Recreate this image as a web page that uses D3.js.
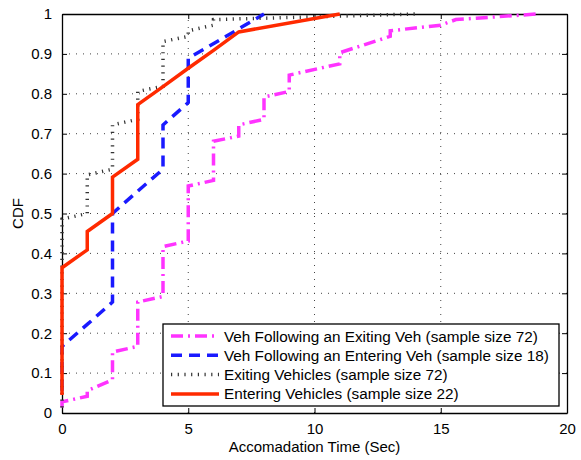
<!DOCTYPE html>
<html>
<head>
<meta charset="utf-8">
<script src="https://cdn.jsdelivr.net/npm/d3@7"></script>
<style>
  html, body { margin: 0; padding: 0; background: #fff; }
  svg { display: block; }
  text { font-family: "Liberation Sans", Arial, Helvetica, sans-serif; fill: #000; }
</style>
</head>
<body>
<svg id="chart" width="581" height="460"></svg>
<script>
// Empirical CDF curves of accommodation time, as [time (s), cumulative fraction] vertices
const followExiting = [
  [0, 0.014], [0, 0.028], [1, 0.042], [1, 0.056], [2, 0.083], [2, 0.153],
  [3, 0.167], [3, 0.278], [4, 0.292], [4, 0.417], [5, 0.431], [5, 0.569],
  [6, 0.583], [6, 0.681], [7, 0.694], [7, 0.722], [8, 0.736], [8, 0.792],
  [9, 0.806], [9, 0.847], [11, 0.875], [11, 0.903], [13, 0.944], [13, 0.958],
  [15, 0.972], [15.6, 0.986], [18.8, 1]
];
const followEntering = [
  [0, 0.056], [0, 0.167], [1, 0.222], [2, 0.278], [2, 0.5], [3, 0.556],
  [4, 0.611], [4, 0.722], [5, 0.778], [5, 0.889], [6.5, 0.944], [8, 1]
];
const exiting = [
  [0, 0.014], [0, 0.486], [1, 0.5], [1, 0.597], [2, 0.611], [2, 0.722],
  [3, 0.736], [3, 0.806], [4, 0.819], [4, 0.931], [5, 0.944], [5, 0.958],
  [6, 0.972], [6, 0.986], [14, 1]
];
const entering = [
  [0, 0.045], [0, 0.364], [1, 0.409], [1, 0.455], [2, 0.5], [2, 0.591],
  [3, 0.636], [3, 0.773], [4, 0.818], [5, 0.864], [6, 0.909], [7, 0.955], [11, 1]
];

const seriesLabels = [
  "Veh Following an Exiting Veh (sample size 72)",
  "Veh Following an Entering Veh (sample size 18)",
  "Exiting Vehicles (sample size 72)",
  "Entering Vehicles (sample size 22)"
];
const xTicks = [0, 5, 10, 15, 20];
const yTicks = [0, 0.1, 0.2, 0.3, 0.4, 0.5, 0.6, 0.7, 0.8, 0.9, 1];
const xTitle = "Accomadation Time (Sec)";
const yTitle = "CDF";

// Line styles per series
const styles = [
  { color: "#ff33ff", width: 3.5, dash: "12,5,2,5" },
  { color: "#1a1aff", width: 3.5, dash: "11,7" },
  { color: "#333333", width: 3.5, dash: "1.2,5.5" },
  { color: "#ff2a00", width: 3.5, dash: null }
];
const allSeries = [followExiting, followEntering, exiting, entering];

const svg = d3.select("#chart");
const L = 62, R = 567, T = 14, B = 413;
const FS = "15px";

const x = d3.scaleLinear().domain([0, 20]).range([L, R]);
const y = d3.scaleLinear().domain([0, 1]).range([B, T]);

// Grid lines (dotted)
const grid = svg.append("g");
grid.selectAll(".gx").data(xTicks.slice(1, -1)).enter().append("line")
  .attr("x1", d => x(d)).attr("x2", d => x(d)).attr("y1", B).attr("y2", T)
  .attr("stroke", "#444").attr("stroke-width", 1).attr("stroke-dasharray", "1,6");
grid.selectAll(".gy").data(yTicks.slice(1, -1)).enter().append("line")
  .attr("x1", L).attr("x2", R).attr("y1", d => y(d)).attr("y2", d => y(d))
  .attr("stroke", "#444").attr("stroke-width", 1).attr("stroke-dasharray", "1,6");

// Axes with inward ticks on all four sides
const tickFmt = d => d === 0 ? "0" : (d === 1 ? "1" : d3.format("")(+d.toFixed(1)));
const axB = svg.append("g").attr("transform", `translate(0,${B})`)
  .call(d3.axisBottom(x).tickValues(xTicks).tickSizeInner(-5).tickSizeOuter(0).tickPadding(10).tickFormat(d3.format("d")));
const axT = svg.append("g").attr("transform", `translate(0,${T})`)
  .call(d3.axisTop(x).tickValues(xTicks).tickSizeInner(-5).tickSizeOuter(0).tickFormat(""));
const axL = svg.append("g").attr("transform", `translate(${L},0)`)
  .call(d3.axisLeft(y).tickValues(yTicks).tickSizeInner(-5).tickSizeOuter(0).tickPadding(10).tickFormat(tickFmt));
const axR = svg.append("g").attr("transform", `translate(${R},0)`)
  .call(d3.axisRight(y).tickValues(yTicks).tickSizeInner(-5).tickSizeOuter(0).tickFormat(""));
[axB, axT, axL, axR].forEach(g => {
  g.select(".domain").attr("stroke", "#000").attr("stroke-width", 1.3);
  g.selectAll(".tick line").attr("stroke", "#000").attr("stroke-width", 1);
  g.selectAll("text").style("font-size", FS).attr("fill", "#000")
    .style("font-family", '"Liberation Sans", Arial, Helvetica, sans-serif');
});

// Curves
const line = d3.line().x(d => x(d[0])).y(d => y(d[1]));
allSeries.forEach((s, i) => {
  const st = styles[i];
  svg.append("path").datum(s)
    .attr("d", line)
    .attr("fill", "none")
    .attr("stroke", st.color)
    .attr("stroke-width", st.width)
    .attr("stroke-dasharray", st.dash)
    .attr("stroke-linejoin", "miter");
});

// Axis titles
svg.append("text").attr("x", (L + R) / 2).attr("y", 452).attr("text-anchor", "middle")
  .style("font-size", FS).text(xTitle);
svg.append("text").attr("transform", `translate(23,${(T + B) / 2}) rotate(-90)`)
  .attr("text-anchor", "middle").style("font-size", FS).text(yTitle);

// Legend
const lg = svg.append("g");
const lgX = 163, lgY = 324, lgW = 396, lgH = 82;
lg.append("rect").attr("x", lgX).attr("y", lgY).attr("width", lgW).attr("height", lgH)
  .attr("fill", "#fff").attr("stroke", "#000").attr("stroke-width", 1.3);
seriesLabels.forEach((lab, i) => {
  const ry = lgY + 12 + i * 19.3;
  const st = styles[i];
  lg.append("line").attr("x1", lgX + 8).attr("x2", lgX + 56).attr("y1", ry).attr("y2", ry)
    .attr("stroke", st.color).attr("stroke-width", st.width).attr("stroke-dasharray", st.dash);
  lg.append("text").attr("x", lgX + 61).attr("y", ry + 5.5).style("font-size", "15.3px").text(lab);
});
</script>
</body>
</html>
